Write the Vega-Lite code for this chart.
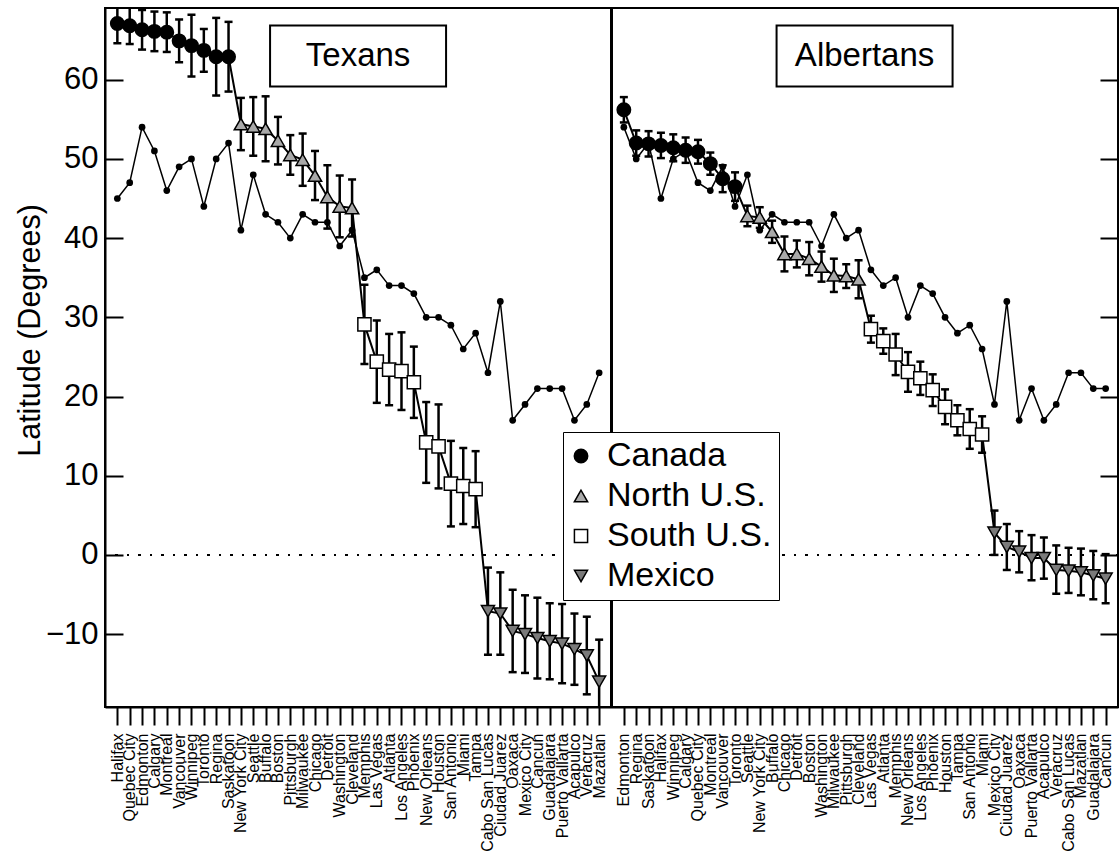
{
  "$schema": "https://vega.github.io/schema/vega-lite/v6.json",
  "width": 1013,
  "height": 699,
  "autosize": {"type": "none"},
  "padding": {"left": 105, "top": 8, "right": 2, "bottom": 151},
  "background": "white",
  "config": {
    "font": "Liberation Sans",
    "view": {"stroke": "black", "strokeWidth": 2},
    "legend": {
      "labelLimit": 0
    }
  },
  "datasets": {
    "cities": [
      {"panel": "Texans", "city": "Halifax", "region": "Canada", "mean": 67.1, "lo": 64.6, "hi": 69.6, "lat": 45},
      {"panel": "Texans", "city": "Quebec City", "region": "Canada", "mean": 66.8, "lo": 64.5, "hi": 69.1, "lat": 47},
      {"panel": "Texans", "city": "Edmonton", "region": "Canada", "mean": 66.3, "lo": 63.8, "hi": 68.8, "lat": 54},
      {"panel": "Texans", "city": "Calgary", "region": "Canada", "mean": 66.1, "lo": 63.6, "hi": 68.6, "lat": 51},
      {"panel": "Texans", "city": "Montreal", "region": "Canada", "mean": 66.0, "lo": 63.5, "hi": 68.5, "lat": 46},
      {"panel": "Texans", "city": "Vancouver", "region": "Canada", "mean": 64.9, "lo": 62.2, "hi": 67.6, "lat": 49},
      {"panel": "Texans", "city": "Winnipeg", "region": "Canada", "mean": 64.3, "lo": 60.4, "hi": 68.2, "lat": 50},
      {"panel": "Texans", "city": "Toronto", "region": "Canada", "mean": 63.7, "lo": 61.0, "hi": 66.4, "lat": 44},
      {"panel": "Texans", "city": "Regina", "region": "Canada", "mean": 62.9, "lo": 58.0, "hi": 67.8, "lat": 50},
      {"panel": "Texans", "city": "Saskatoon", "region": "Canada", "mean": 62.9, "lo": 58.5, "hi": 67.3, "lat": 52},
      {"panel": "Texans", "city": "New York City", "region": "North U.S.", "mean": 54.4, "lo": 51.1, "hi": 57.7, "lat": 41},
      {"panel": "Texans", "city": "Seattle", "region": "North U.S.", "mean": 54.1, "lo": 50.4, "hi": 57.8, "lat": 48},
      {"panel": "Texans", "city": "Buffalo", "region": "North U.S.", "mean": 53.8, "lo": 49.7, "hi": 57.9, "lat": 43},
      {"panel": "Texans", "city": "Boston", "region": "North U.S.", "mean": 52.3, "lo": 49.3, "hi": 55.3, "lat": 42},
      {"panel": "Texans", "city": "Pittsburgh", "region": "North U.S.", "mean": 50.5, "lo": 48.0, "hi": 53.0, "lat": 40},
      {"panel": "Texans", "city": "Milwaukee", "region": "North U.S.", "mean": 49.9, "lo": 46.6, "hi": 53.2, "lat": 43},
      {"panel": "Texans", "city": "Chicago", "region": "North U.S.", "mean": 47.9, "lo": 44.8, "hi": 51.0, "lat": 42},
      {"panel": "Texans", "city": "Detroit", "region": "North U.S.", "mean": 45.2, "lo": 41.2, "hi": 49.2, "lat": 42},
      {"panel": "Texans", "city": "Washington", "region": "North U.S.", "mean": 44.0, "lo": 40.1, "hi": 47.9, "lat": 39},
      {"panel": "Texans", "city": "Cleveland", "region": "North U.S.", "mean": 43.8, "lo": 40.2, "hi": 47.4, "lat": 41},
      {"panel": "Texans", "city": "Memphis", "region": "South U.S.", "mean": 29.1, "lo": 24.1, "hi": 34.1, "lat": 35},
      {"panel": "Texans", "city": "Las Vegas", "region": "South U.S.", "mean": 24.4, "lo": 19.2, "hi": 29.6, "lat": 36},
      {"panel": "Texans", "city": "Atlanta", "region": "South U.S.", "mean": 23.4, "lo": 18.9, "hi": 27.9, "lat": 34},
      {"panel": "Texans", "city": "Los Angeles", "region": "South U.S.", "mean": 23.2, "lo": 18.3, "hi": 28.1, "lat": 34},
      {"panel": "Texans", "city": "Phoenix", "region": "South U.S.", "mean": 21.8, "lo": 17.3, "hi": 26.3, "lat": 33},
      {"panel": "Texans", "city": "New Orleans", "region": "South U.S.", "mean": 14.2, "lo": 9.1, "hi": 19.3, "lat": 30},
      {"panel": "Texans", "city": "Houston", "region": "South U.S.", "mean": 13.7, "lo": 8.4, "hi": 19.0, "lat": 30},
      {"panel": "Texans", "city": "San Antonio", "region": "South U.S.", "mean": 9.0, "lo": 3.6, "hi": 14.4, "lat": 29},
      {"panel": "Texans", "city": "Miami", "region": "South U.S.", "mean": 8.7, "lo": 3.9, "hi": 13.5, "lat": 26},
      {"panel": "Texans", "city": "Tampa", "region": "South U.S.", "mean": 8.3, "lo": 3.5, "hi": 13.1, "lat": 28},
      {"panel": "Texans", "city": "Cabo San Lucas", "region": "Mexico", "mean": -7.1, "lo": -12.6, "hi": -1.6, "lat": 23},
      {"panel": "Texans", "city": "Ciudad Juarez", "region": "Mexico", "mean": -7.4, "lo": -12.6, "hi": -2.2, "lat": 32},
      {"panel": "Texans", "city": "Oaxaca", "region": "Mexico", "mean": -9.6, "lo": -14.8, "hi": -4.4, "lat": 17},
      {"panel": "Texans", "city": "Mexico City", "region": "Mexico", "mean": -10.0, "lo": -14.9, "hi": -5.1, "lat": 19},
      {"panel": "Texans", "city": "Cancun", "region": "Mexico", "mean": -10.5, "lo": -15.6, "hi": -5.4, "lat": 21},
      {"panel": "Texans", "city": "Guadalajara", "region": "Mexico", "mean": -10.9, "lo": -15.7, "hi": -6.1, "lat": 21},
      {"panel": "Texans", "city": "Puerto Vallarta", "region": "Mexico", "mean": -11.2, "lo": -16.2, "hi": -6.2, "lat": 21},
      {"panel": "Texans", "city": "Acapulco", "region": "Mexico", "mean": -11.9, "lo": -16.4, "hi": -7.4, "lat": 17},
      {"panel": "Texans", "city": "Veracruz", "region": "Mexico", "mean": -12.7, "lo": -17.6, "hi": -7.8, "lat": 19},
      {"panel": "Texans", "city": "Mazatlan", "region": "Mexico", "mean": -16.0, "lo": -21.3, "hi": -10.7, "lat": 23},
      {"panel": "Albertans", "city": "Edmonton", "region": "Canada", "mean": 56.2, "lo": 54.6, "hi": 57.8, "lat": 54},
      {"panel": "Albertans", "city": "Regina", "region": "Canada", "mean": 52.0, "lo": 50.4, "hi": 53.6, "lat": 50},
      {"panel": "Albertans", "city": "Saskatoon", "region": "Canada", "mean": 51.9, "lo": 50.3, "hi": 53.5, "lat": 52},
      {"panel": "Albertans", "city": "Halifax", "region": "Canada", "mean": 51.7, "lo": 50.1, "hi": 53.3, "lat": 45},
      {"panel": "Albertans", "city": "Winnipeg", "region": "Canada", "mean": 51.4, "lo": 49.7, "hi": 53.1, "lat": 50},
      {"panel": "Albertans", "city": "Calgary", "region": "Canada", "mean": 51.1, "lo": 49.5, "hi": 52.7, "lat": 51},
      {"panel": "Albertans", "city": "Quebec City", "region": "Canada", "mean": 50.9, "lo": 49.4, "hi": 52.4, "lat": 47},
      {"panel": "Albertans", "city": "Montreal", "region": "Canada", "mean": 49.4, "lo": 48.0, "hi": 50.8, "lat": 46},
      {"panel": "Albertans", "city": "Vancouver", "region": "Canada", "mean": 47.5, "lo": 45.8, "hi": 49.2, "lat": 49},
      {"panel": "Albertans", "city": "Toronto", "region": "Canada", "mean": 46.5, "lo": 44.7, "hi": 48.3, "lat": 44},
      {"panel": "Albertans", "city": "Seattle", "region": "North U.S.", "mean": 42.8, "lo": 41.5, "hi": 44.1, "lat": 48},
      {"panel": "Albertans", "city": "New York City", "region": "North U.S.", "mean": 42.6, "lo": 41.3, "hi": 43.9, "lat": 41},
      {"panel": "Albertans", "city": "Buffalo", "region": "North U.S.", "mean": 40.8, "lo": 39.4, "hi": 42.2, "lat": 43},
      {"panel": "Albertans", "city": "Chicago", "region": "North U.S.", "mean": 38.0, "lo": 35.8, "hi": 40.2, "lat": 42},
      {"panel": "Albertans", "city": "Detroit", "region": "North U.S.", "mean": 38.0, "lo": 36.3, "hi": 39.7, "lat": 42},
      {"panel": "Albertans", "city": "Boston", "region": "North U.S.", "mean": 37.4, "lo": 35.3, "hi": 39.5, "lat": 42},
      {"panel": "Albertans", "city": "Washington", "region": "North U.S.", "mean": 36.4, "lo": 34.5, "hi": 38.3, "lat": 39},
      {"panel": "Albertans", "city": "Milwaukee", "region": "North U.S.", "mean": 35.3, "lo": 33.2, "hi": 37.4, "lat": 43},
      {"panel": "Albertans", "city": "Pittsburgh", "region": "North U.S.", "mean": 35.2, "lo": 33.7, "hi": 36.7, "lat": 40},
      {"panel": "Albertans", "city": "Cleveland", "region": "North U.S.", "mean": 34.8, "lo": 32.4, "hi": 37.2, "lat": 41},
      {"panel": "Albertans", "city": "Las Vegas", "region": "South U.S.", "mean": 28.5, "lo": 26.8, "hi": 30.2, "lat": 36},
      {"panel": "Albertans", "city": "Atlanta", "region": "South U.S.", "mean": 27.0, "lo": 25.4, "hi": 28.6, "lat": 34},
      {"panel": "Albertans", "city": "Memphis", "region": "South U.S.", "mean": 25.3, "lo": 22.7, "hi": 27.9, "lat": 35},
      {"panel": "Albertans", "city": "New Orleans", "region": "South U.S.", "mean": 23.1, "lo": 20.6, "hi": 25.6, "lat": 30},
      {"panel": "Albertans", "city": "Los Angeles", "region": "South U.S.", "mean": 22.3, "lo": 20.2, "hi": 24.4, "lat": 34},
      {"panel": "Albertans", "city": "Phoenix", "region": "South U.S.", "mean": 20.8, "lo": 18.8, "hi": 22.8, "lat": 33},
      {"panel": "Albertans", "city": "Houston", "region": "South U.S.", "mean": 18.7, "lo": 16.5, "hi": 20.9, "lat": 30},
      {"panel": "Albertans", "city": "Tampa", "region": "South U.S.", "mean": 17.0, "lo": 15.1, "hi": 18.9, "lat": 28},
      {"panel": "Albertans", "city": "San Antonio", "region": "South U.S.", "mean": 15.9, "lo": 13.4, "hi": 18.4, "lat": 29},
      {"panel": "Albertans", "city": "Miami", "region": "South U.S.", "mean": 15.2, "lo": 12.9, "hi": 17.5, "lat": 26},
      {"panel": "Albertans", "city": "Mexico City", "region": "Mexico", "mean": 2.8, "lo": 0.0, "hi": 5.6, "lat": 19},
      {"panel": "Albertans", "city": "Ciudad Juarez", "region": "Mexico", "mean": 1.0, "lo": -1.9, "hi": 3.9, "lat": 32},
      {"panel": "Albertans", "city": "Oaxaca", "region": "Mexico", "mean": 0.4, "lo": -2.2, "hi": 3.0, "lat": 17},
      {"panel": "Albertans", "city": "Puerto Vallarta", "region": "Mexico", "mean": -0.4, "lo": -3.2, "hi": 2.5, "lat": 21},
      {"panel": "Albertans", "city": "Acapulco", "region": "Mexico", "mean": -0.4, "lo": -3.0, "hi": 2.2, "lat": 17},
      {"panel": "Albertans", "city": "Veracruz", "region": "Mexico", "mean": -1.9, "lo": -4.9, "hi": 1.2, "lat": 19},
      {"panel": "Albertans", "city": "Cabo San Lucas", "region": "Mexico", "mean": -2.0, "lo": -4.8, "hi": 0.9, "lat": 23},
      {"panel": "Albertans", "city": "Mazatlan", "region": "Mexico", "mean": -2.2, "lo": -5.1, "hi": 0.8, "lat": 23},
      {"panel": "Albertans", "city": "Guadalajara", "region": "Mexico", "mean": -2.6, "lo": -5.6, "hi": 0.5, "lat": 21},
      {"panel": "Albertans", "city": "Cancun", "region": "Mexico", "mean": -3.0, "lo": -6.1, "hi": 0.1, "lat": 21}
    ],
    "panels": [
      {"panel": "Texans", "city": "Cleveland", "lat": 63},
      {"panel": "Albertans", "city": "Cleveland", "lat": 63}
    ]
  },
  "data": {"name": "cities"},
  "transform": [{"calculate": "datum.panel + '|' + datum.city", "as": "key"}],
  "resolve": {"axis": {"y": "independent"}},
  "layer": [
    {
      "mark": {"type": "line", "color": "black", "strokeWidth": 2, "clip": true},
      "encoding": {
        "x": {
          "field": "key", "type": "ordinal",
          "scale": {"type": "point", "padding": 1, "domain": [
            "Texans|Halifax", "Texans|Quebec City", "Texans|Edmonton", "Texans|Calgary", "Texans|Montreal", "Texans|Vancouver", "Texans|Winnipeg", "Texans|Toronto", "Texans|Regina", "Texans|Saskatoon",
            "Texans|New York City", "Texans|Seattle", "Texans|Buffalo", "Texans|Boston", "Texans|Pittsburgh", "Texans|Milwaukee", "Texans|Chicago", "Texans|Detroit", "Texans|Washington", "Texans|Cleveland",
            "Texans|Memphis", "Texans|Las Vegas", "Texans|Atlanta", "Texans|Los Angeles", "Texans|Phoenix", "Texans|New Orleans", "Texans|Houston", "Texans|San Antonio", "Texans|Miami", "Texans|Tampa",
            "Texans|Cabo San Lucas", "Texans|Ciudad Juarez", "Texans|Oaxaca", "Texans|Mexico City", "Texans|Cancun", "Texans|Guadalajara", "Texans|Puerto Vallarta", "Texans|Acapulco", "Texans|Veracruz", "Texans|Mazatlan",
            "gap",
            "Albertans|Edmonton", "Albertans|Regina", "Albertans|Saskatoon", "Albertans|Halifax", "Albertans|Winnipeg", "Albertans|Calgary", "Albertans|Quebec City", "Albertans|Montreal", "Albertans|Vancouver", "Albertans|Toronto",
            "Albertans|Seattle", "Albertans|New York City", "Albertans|Buffalo", "Albertans|Chicago", "Albertans|Detroit", "Albertans|Boston", "Albertans|Washington", "Albertans|Milwaukee", "Albertans|Pittsburgh", "Albertans|Cleveland",
            "Albertans|Las Vegas", "Albertans|Atlanta", "Albertans|Memphis", "Albertans|New Orleans", "Albertans|Los Angeles", "Albertans|Phoenix", "Albertans|Houston", "Albertans|Tampa", "Albertans|San Antonio", "Albertans|Miami",
            "Albertans|Mexico City", "Albertans|Ciudad Juarez", "Albertans|Oaxaca", "Albertans|Puerto Vallarta", "Albertans|Acapulco", "Albertans|Veracruz", "Albertans|Cabo San Lucas", "Albertans|Mazatlan", "Albertans|Guadalajara", "Albertans|Cancun"
          ]},
          "axis": {
            "title": null,
            "values": [
              "Texans|Halifax", "Texans|Quebec City", "Texans|Edmonton", "Texans|Calgary", "Texans|Montreal", "Texans|Vancouver", "Texans|Winnipeg", "Texans|Toronto", "Texans|Regina", "Texans|Saskatoon",
              "Texans|New York City", "Texans|Seattle", "Texans|Buffalo", "Texans|Boston", "Texans|Pittsburgh", "Texans|Milwaukee", "Texans|Chicago", "Texans|Detroit", "Texans|Washington", "Texans|Cleveland",
              "Texans|Memphis", "Texans|Las Vegas", "Texans|Atlanta", "Texans|Los Angeles", "Texans|Phoenix", "Texans|New Orleans", "Texans|Houston", "Texans|San Antonio", "Texans|Miami", "Texans|Tampa",
              "Texans|Cabo San Lucas", "Texans|Ciudad Juarez", "Texans|Oaxaca", "Texans|Mexico City", "Texans|Cancun", "Texans|Guadalajara", "Texans|Puerto Vallarta", "Texans|Acapulco", "Texans|Veracruz", "Texans|Mazatlan",
              "Albertans|Edmonton", "Albertans|Regina", "Albertans|Saskatoon", "Albertans|Halifax", "Albertans|Winnipeg", "Albertans|Calgary", "Albertans|Quebec City", "Albertans|Montreal", "Albertans|Vancouver", "Albertans|Toronto",
              "Albertans|Seattle", "Albertans|New York City", "Albertans|Buffalo", "Albertans|Chicago", "Albertans|Detroit", "Albertans|Boston", "Albertans|Washington", "Albertans|Milwaukee", "Albertans|Pittsburgh", "Albertans|Cleveland",
              "Albertans|Las Vegas", "Albertans|Atlanta", "Albertans|Memphis", "Albertans|New Orleans", "Albertans|Los Angeles", "Albertans|Phoenix", "Albertans|Houston", "Albertans|Tampa", "Albertans|San Antonio", "Albertans|Miami",
              "Albertans|Mexico City", "Albertans|Ciudad Juarez", "Albertans|Oaxaca", "Albertans|Puerto Vallarta", "Albertans|Acapulco", "Albertans|Veracruz", "Albertans|Cabo San Lucas", "Albertans|Mazatlan", "Albertans|Guadalajara", "Albertans|Cancun"
            ],
            "labelExpr": "split(datum.value, '|')[1]",
            "labelAngle": -90, "labelAlign": "right", "labelBaseline": "middle",
            "labelFontSize": 16, "labelColor": "black", "labelPadding": 8, "labelOverlap": false,
            "tickSize": 18, "tickWidth": 2, "tickColor": "black",
            "domainColor": "black", "domainWidth": 2, "grid": false
          }
        },
        "y": {
          "field": "mean", "type": "quantitative",
          "scale": {"domain": [-19.2, 69.05], "nice": false, "zero": false},
          "axis": {
            "title": "Latitude (Degrees)", "titleFontSize": 30.5, "titleFontWeight": "normal", "titleColor": "black",
            "titleX": -66, "titleY": 322, "titleBaseline": "alphabetic", "titleAngle": -90,
            "values": [-10, 0, 10, 20, 30, 40, 50, 60],
            "labelFontSize": 31, "labelColor": "black", "labelPadding": 25,
            "tickSize": -18, "tickWidth": 2, "tickColor": "black",
            "domainColor": "black", "domainWidth": 2, "grid": false
          }
        },
        "detail": {"field": "panel"},
        "order": {"value": null}
      }
    },
    {
      "mark": {"type": "rule", "color": "black", "strokeWidth": 1.6, "strokeDash": [2, 9.5]},
      "encoding": {"y": {"datum": 0, "type": "quantitative", "axis": null}}
    },
    {
      "mark": {"type": "rule", "color": "black", "strokeWidth": 2},
      "encoding": {"x": {"datum": "gap", "type": "ordinal"}}
    },
    {
      "mark": {"type": "line", "color": "black", "strokeWidth": 1.5},
      "encoding": {
        "x": {"field": "key", "type": "ordinal"},
        "y": {
          "field": "lat", "type": "quantitative",
          "axis": {
            "orient": "right", "title": null, "labels": false,
            "values": [-10, 0, 10, 20, 30, 40, 50, 60],
            "tickSize": -18, "tickWidth": 2, "tickColor": "black",
            "domain": false, "grid": false
          }
        },
        "detail": {"field": "panel"},
        "order": {"value": null}
      }
    },
    {
      "mark": {"type": "point", "filled": true, "color": "black", "size": 45, "opacity": 1},
      "encoding": {
        "x": {"field": "key", "type": "ordinal"},
        "y": {"field": "lat", "type": "quantitative", "axis": null}
      }
    },
    {
      "mark": {"type": "rule", "color": "black", "strokeWidth": 2.5, "clip": true},
      "encoding": {
        "x": {"field": "key", "type": "ordinal"},
        "y": {"field": "lo", "type": "quantitative", "axis": null},
        "y2": {"field": "hi"}
      }
    },
    {
      "mark": {"type": "tick", "orient": "horizontal", "color": "black", "size": 8, "thickness": 2.5, "opacity": 1, "clip": true},
      "encoding": {
        "x": {"field": "key", "type": "ordinal"},
        "y": {"field": "hi", "type": "quantitative", "axis": null}
      }
    },
    {
      "mark": {"type": "tick", "orient": "horizontal", "color": "black", "size": 8, "thickness": 2.5, "opacity": 1, "clip": true},
      "encoding": {
        "x": {"field": "key", "type": "ordinal"},
        "y": {"field": "lo", "type": "quantitative", "axis": null}
      }
    },
    {
      "mark": {"type": "point", "filled": true, "stroke": "black", "strokeWidth": 1.5, "opacity": 1, "clip": true},
      "encoding": {
        "x": {"field": "key", "type": "ordinal"},
        "y": {"field": "mean", "type": "quantitative", "axis": null},
        "shape": {
          "field": "region", "type": "nominal",
          "scale": {"domain": ["Canada", "North U.S.", "South U.S.", "Mexico"], "range": ["circle", "triangle-up", "square", "triangle-down"]},
          "legend": {
            "title": null, "orient": "none", "legendX": 458, "legendY": 424,
            "strokeColor": "black", "fillColor": "white", "padding": 7,
            "labelFontSize": 34, "labelColor": "black", "labelFont": "Liberation Sans", "labelLimit": 0,
            "rowPadding": 6, "labelOffset": 9, "symbolOffset": -6, "cornerRadius": 0,
            "encode": {"symbols": {"update": {"stroke": {"value": "black"}, "strokeWidth": {"value": 1.5}, "opacity": {"value": 1}}}}
          }
        },
        "fill": {
          "field": "region", "type": "nominal",
          "scale": {"domain": ["Canada", "North U.S.", "South U.S.", "Mexico"], "range": ["black", "#a9a9a9", "white", "#7a7a7a"]},
          "legend": {
            "title": null, "orient": "none", "legendX": 458, "legendY": 424,
            "strokeColor": "black", "fillColor": "white", "padding": 7,
            "labelFontSize": 34, "labelColor": "black", "labelFont": "Liberation Sans", "labelLimit": 0,
            "rowPadding": 6, "labelOffset": 9, "symbolOffset": -6, "cornerRadius": 0,
            "encode": {"symbols": {"update": {"stroke": {"value": "black"}, "strokeWidth": {"value": 1.5}, "opacity": {"value": 1}}}}
          }
        },
        "size": {
          "field": "region", "type": "nominal",
          "scale": {"domain": ["Canada", "North U.S.", "South U.S.", "Mexico"], "range": [180, 170, 110, 170]},
          "legend": {
            "title": null, "orient": "none", "legendX": 458, "legendY": 424,
            "strokeColor": "black", "fillColor": "white", "padding": 7,
            "labelFontSize": 34, "labelColor": "black", "labelFont": "Liberation Sans", "labelLimit": 0,
            "rowPadding": 6, "labelOffset": 9, "symbolOffset": -6, "cornerRadius": 0,
            "encode": {"symbols": {"update": {"stroke": {"value": "black"}, "strokeWidth": {"value": 1.5}, "opacity": {"value": 1}}}}
          }
        }
      }
    },
    {
      "data": {"name": "panels"},
      "transform": [{"calculate": "datum.panel + '|' + datum.city", "as": "key"}],
      "mark": {"type": "point", "shape": "M-1,-0.3466L1,-0.3466L1,0.3466L-1,0.3466Z", "size": 30976, "filled": true, "fill": "white", "stroke": "black", "strokeWidth": 2, "opacity": 1, "xOffset": 6},
      "encoding": {
        "x": {"field": "key", "type": "ordinal"},
        "y": {"field": "lat", "type": "quantitative", "axis": null}
      }
    },
    {
      "data": {"name": "panels"},
      "transform": [{"calculate": "datum.panel + '|' + datum.city", "as": "key"}],
      "mark": {"type": "text", "fontSize": 33, "color": "black", "align": "center", "baseline": "middle", "xOffset": 6},
      "encoding": {
        "x": {"field": "key", "type": "ordinal"},
        "y": {"field": "lat", "type": "quantitative", "axis": null},
        "text": {"field": "panel"}
      }
    }
  ]
}
